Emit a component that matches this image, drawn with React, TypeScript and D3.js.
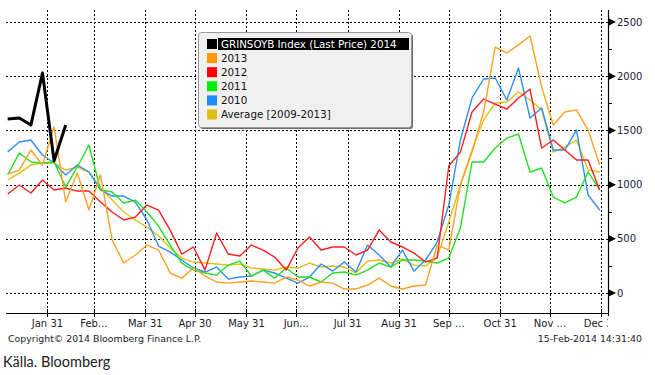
import React from 'react';
import * as d3 from 'd3';

// weekly seasonal values (GRINSOYB)
const s2014 = [1606, 1615, 1550, 2030, 1220, 1550];
const s2013 = [1098, 1135, 1320, 1181, 1532, 840, 1107, 766, 1089, 489, 277, 351, 443, 397, 185, 138, 231, 157, 102, 92, 102, 111, 102, 92, 148, 120, 65, 102, 92, 37, 37, 74, 138, 65, 37, 65, 74, 443, 397, 997, 1301, 1670, 2270, 2215, 2290, 2372, 1900, 1550, 1670, 1690, 1504, 1181];
const s2012 = [914, 997, 923, 1043, 951, 969, 941, 941, 840, 748, 674, 701, 812, 766, 581, 360, 425, 212, 554, 360, 342, 443, 397, 332, 212, 415, 517, 397, 425, 425, 351, 397, 581, 471, 425, 369, 286, 323, 1172, 1300, 1670, 1790, 1744, 1698, 1800, 1880, 1338, 1412, 1320, 1227, 1227, 950];
const s2011 = [1089, 1292, 1209, 1200, 1209, 978, 1163, 1366, 951, 932, 831, 858, 748, 618, 443, 277, 212, 185, 166, 258, 295, 157, 212, 138, 231, 148, 148, 102, 185, 194, 166, 212, 277, 240, 305, 305, 295, 277, 323, 600, 1209, 1209, 1338, 1430, 1467, 1117, 1154, 886, 831, 886, 1117, 951];
const s2010 = [1301, 1394, 1412, 1274, 1200, 1089, 1181, 1117, 951, 895, 895, 840, 674, 434, 378, 305, 231, 194, 240, 129, 148, 157, 212, 185, 138, 92, 148, 268, 203, 286, 194, 443, 351, 240, 397, 203, 305, 471, 812, 1412, 1800, 1975, 1984, 1781, 2077, 1615, 1707, 1320, 1320, 1504, 905, 766];
const sAvg = [1043, 1107, 1181, 1200, 1200, 1135, 1163, 1117, 969, 858, 748, 674, 609, 526, 415, 323, 286, 277, 268, 258, 268, 231, 222, 212, 240, 231, 277, 240, 249, 240, 185, 295, 305, 277, 314, 258, 249, 332, 655, 997, 1320, 1597, 1754, 1763, 1855, 1781, 1689, 1301, 1348, 1412, 1135, 1117];

const legendLabels = ['GRINSOYB Index (Last Price) 2014', '2013', '2012', '2011', '2010', 'Average [2009-2013]'];
const monthTicks = ['2014-01-31', '2014-02-28', '2014-03-31', '2014-04-30', '2014-05-31', '2014-06-30', '2014-07-31', '2014-08-31', '2014-09-30', '2014-10-31', '2014-11-30', '2014-12-31'];
const monthLabels = ['Jan 31', 'Feb...', 'Mar 31', 'Apr 30', 'May 31', 'Jun...', 'Jul 31', 'Aug 31', 'Sep ...', 'Oct 31', 'Nov ...', 'Dec 31'];
const yTicks = [0, 500, 1000, 1500, 2000, 2500];
const yMinor = [250, 750, 1250, 1750, 2250];

const W = 655;
const H = 375;
const plot = { left: 6, right: 608, top: 8, bottom: 313 };
const font = 'DejaVu Sans, Verdana, sans-serif';

const weekDate = (i: number) => new Date(2014, 0, 7 + 7 * i);

const App = () => {
  const x = d3.scaleTime()
    .domain([new Date(2014, 0, 6), new Date(2015, 0, 4)])
    .range([plot.left, plot.right]);
  const y = d3.scaleLinear().domain([-184, 2630]).range([plot.bottom, plot.top]);

  const line = d3.line<number>()
    .x((_, i) => x(weekDate(i)))
    .y(d => y(d));

  const series = [
    { values: sAvg, color: '#e3bf16', width: 1.4 },
    { values: s2010, color: '#2f8ff5', width: 1.4 },
    { values: s2011, color: '#22e122', width: 1.4 },
    { values: s2012, color: '#ff1f1f', width: 1.4 },
    { values: s2013, color: '#ffa023', width: 1.4 },
    { values: s2014, color: '#000000', width: 3 },
  ];
  const swatches = ['#000000', '#ff9a00', '#ff0000', '#00ee00', '#1e8cff', '#e0c010'];

  const parse = d3.timeParse('%Y-%m-%d');
  const tickDates = monthTicks.map(d => parse(d) as Date);

  const lg = { x: 198, y: 32, w: 213, h: 95 };

  return (
    <svg width={W} height={H} style={{ position: 'absolute', left: 0, top: 0, background: '#fff' }}>
      <defs>
        <clipPath id="plotclip">
          <rect x={plot.left} y={plot.top} width={plot.right - plot.left} height={plot.bottom - plot.top} />
        </clipPath>
        <clipPath id="labelclip">
          <rect x={0} y={plot.bottom} width={plot.right} height={30} />
        </clipPath>
      </defs>

      {/* grid */}
      {yTicks.map(t => (
        <line key={'gy' + t} x1={plot.left} x2={plot.right} y1={Math.round(y(t)) + 0.5} y2={Math.round(y(t)) + 0.5}
          stroke="#000" strokeWidth={1} strokeDasharray="2,2" />
      ))}
      {tickDates.map((d, i) => (
        <line key={'gx' + i} x1={Math.round(x(d)) + 0.5} x2={Math.round(x(d)) + 0.5} y1={10} y2={plot.bottom}
          stroke="#000" strokeWidth={1} strokeDasharray="2,2" />
      ))}

      {/* series */}
      <g clipPath="url(#plotclip)">
        {series.map((s, i) => (
          <path key={i} d={line(s.values) || ''} fill="none" stroke={s.color} strokeWidth={s.width}
            strokeLinejoin="round" />
        ))}
      </g>

      {/* bottom axis */}
      <line x1={plot.left} x2={plot.right} y1={plot.bottom + 0.5} y2={plot.bottom + 0.5} stroke="#000" strokeWidth={1.2} />
      {tickDates.map((d, i) => (
        <line key={'tx' + i} x1={Math.round(x(d)) + 0.5} x2={Math.round(x(d)) + 0.5} y1={plot.bottom - 4} y2={plot.bottom + 4}
          stroke="#000" strokeWidth={1} />
      ))}
      <g clipPath="url(#labelclip)">
        {tickDates.map((d, i) => (
          <text key={'lx' + i} x={x(d)} y={plot.bottom + 14} textAnchor="middle" fontFamily={font} fontSize={10} fill="#1a1a2a">
            {monthLabels[i]}
          </text>
        ))}
      </g>

      {/* right axis */}
      <line x1={plot.right + 0.5} x2={plot.right + 0.5} y1={10} y2={plot.bottom + 3} stroke="#000" strokeWidth={1.2} />
      {yMinor.map(t => (
        <line key={'my' + t} x1={plot.right} x2={plot.right + 4} y1={Math.round(y(t)) + 0.5} y2={Math.round(y(t)) + 0.5} stroke="#000" />
      ))}
      {yTicks.map(t => (
        <g key={'ty' + t}>
          <path d={`M${plot.right + 1},${y(t) - 3.5} L${plot.right + 8},${y(t)} L${plot.right + 1},${y(t) + 3.5} Z`} fill="#000" />
          <text x={plot.right + 9} y={y(t)} dy="0.35em" fontFamily={font} fontSize={10} fill="#1a1a3a">{t}</text>
        </g>
      ))}

      {/* legend */}
      <rect x={lg.x + 2} y={lg.y + 2} width={lg.w} height={lg.h} rx={3} fill="#6a6a6a" />
      <rect x={lg.x + 0.5} y={lg.y + 0.5} width={lg.w} height={lg.h} rx={3} fill="#f0f0f0" stroke="#9a9a9a" />
      {legendLabels.map((l, i) => {
        const cy = lg.y + 12 + i * 14.1;
        return (
          <g key={'lg' + i}>
            <rect x={207} y={cy - 5} width={10} height={10} fill={swatches[i]} />
            {i === 0 && <rect x={218} y={cy - 6} width={191} height={12} fill="#000" />}
            <text x={221} y={cy} dy="0.36em" fontFamily={font} fontSize={10.3} fill={i === 0 ? '#fff' : '#111'}>{l}</text>
          </g>
        );
      })}

      {/* footer */}
      <text x={8} y={342} fontFamily={font} fontSize={9.4} fill="#1a1a2a">Copyright© 2014 Bloomberg Finance L.P.</text>
      <text x={642} y={342} textAnchor="end" fontFamily={font} fontSize={9.4} fill="#1a1a2a">15-Feb-2014 14:31:40</text>
      <text x={3} y={367} fontFamily="Lato, sans-serif" fontSize={14.5} fill="#222">Källa. Bloomberg</text>
    </svg>
  );
};

export default App;
